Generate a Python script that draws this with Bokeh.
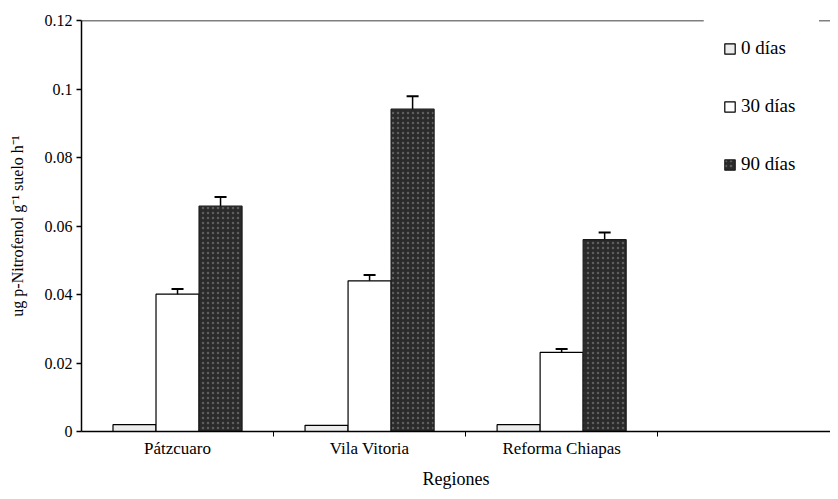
import numpy as np
from bokeh.plotting import figure
from bokeh.models import (Range1d, FixedTicker, CustomJSTickFormatter, Whisker,
                          ColumnDataSource, Legend, LegendItem)
from bokeh.embed import file_html
from bokeh.resources import INLINE

regions = ["Pátzcuaro", "Vila Vitoria", "Reforma Chiapas"]
series_names = ["0 días", "30 días", "90 días"]
dias_0 = [0.0020, 0.0018, 0.0020]
dias_30 = [0.0401, 0.0440, 0.0231]
dias_30_err = [0.0015, 0.0017, 0.0010]
dias_90 = [0.0658, 0.0941, 0.0560]
dias_90_err = [0.0027, 0.0038, 0.0021]
y_ticks = [0, 0.02, 0.04, 0.06, 0.08, 0.1, 0.12]

FONT = "Liberation Serif"
y_max = 0.12
x_end = 3.9

p = figure(width=830, height=491, output_backend="svg", toolbar_location=None,
           x_range=Range1d(0, x_end), y_range=Range1d(0, y_max),
           min_border_left=81, min_border_right=0, min_border_top=20,
           min_border_bottom=59)
p.outline_line_color = None
p.xgrid.visible = False
p.ygrid.visible = False
p.background_fill_color = "white"
p.border_fill_color = "white"

centers = np.arange(len(regions)) + 0.5
bw = 0.224

src0 = ColumnDataSource(dict(x=centers - bw, top=dias_0))
src30 = ColumnDataSource(dict(x=centers, top=dias_30,
                              up=np.array(dias_30) + np.array(dias_30_err),
                              lo=np.array(dias_30) - np.array(dias_30_err)))
src90 = ColumnDataSource(dict(x=centers + bw, top=dias_90,
                              up=np.array(dias_90) + np.array(dias_90_err),
                              lo=np.array(dias_90) - np.array(dias_90_err)))

r0 = p.vbar(x="x", top="top", width=bw, bottom=0, source=src0,
            fill_color="#ececec", line_color="black", line_width=1.2)
r30 = p.vbar(x="x", top="top", width=bw, bottom=0, source=src30,
             fill_color="white", line_color="black", line_width=1.2)
r90 = p.vbar(x="x", top="top", width=bw, bottom=0, source=src90,
             fill_color="#2a2a2a", line_color="#1a1a1a", line_width=1.2,
             hatch_pattern=".", hatch_color="#5e5e5e", hatch_scale=5, hatch_weight=1)

for s in (src30, src90):
    w = Whisker(base="x", upper="up", lower="lo", source=s,
                line_color="black", line_width=1.5)
    w.upper_head.size = 12
    w.lower_head.size = 12
    w.upper_head.line_width = 2
    w.lower_head.line_width = 2
    w.upper_head.line_color = "black"
    w.lower_head.line_color = "black"
    p.add_layout(w)

# top border with gap behind legend
p.segment(x0=[0, 3.84], x1=[3.24, x_end], y0=[y_max, y_max], y1=[y_max, y_max],
          line_color="black", line_width=1.5)

# x axis
xa = p.xaxis[0]
xa.ticker = FixedTicker(ticks=list(centers), minor_ticks=[1, 2, 3])
xa.major_label_overrides = {float(c): r for c, r in zip(centers, regions)}
xa.major_tick_out = 0
xa.major_tick_in = 0
xa.minor_tick_out = 5
xa.minor_tick_in = 0
xa.minor_tick_line_color = "black"
xa.axis_line_width = 1.5
xa.axis_line_color = "black"
xa.major_label_text_font = FONT
xa.major_label_text_font_size = "17px"
xa.major_label_text_color = "black"
xa.major_label_standoff = 2
xa.axis_label = "Regiones"
xa.axis_label_text_font = FONT
xa.axis_label_text_font_size = "18px"
xa.axis_label_text_font_style = "normal"
xa.axis_label_text_color = "black"
xa.axis_label_standoff = 8

# y axis
ya = p.yaxis[0]
ya.ticker = FixedTicker(ticks=y_ticks, minor_ticks=[])
ya.formatter = CustomJSTickFormatter(code="return String(Number(tick.toFixed(2)));")
ya.major_tick_out = 5
ya.major_tick_in = 0
ya.major_tick_line_width = 1.5
ya.axis_line_width = 1.5
ya.axis_line_color = "black"
ya.major_label_text_font = FONT
ya.major_label_text_font_size = "16px"
ya.major_label_text_color = "black"
ya.major_label_standoff = 4
ya.axis_label = "ug p-Nitrofenol g⁻¹ suelo h⁻¹"
ya.axis_label_text_font = FONT
ya.axis_label_text_font_size = "16px"
ya.axis_label_text_font_style = "normal"
ya.axis_label_text_color = "black"
ya.axis_label_standoff = 16

legend = Legend(items=[LegendItem(label=series_names[0], renderers=[r0]),
                       LegendItem(label=series_names[1], renderers=[r30]),
                       LegendItem(label=series_names[2], renderers=[r90])],
                location=(642, 256), orientation="vertical")
legend.padding = 0
legend.margin = 0
legend.spacing = 36
legend.glyph_width = 13
legend.glyph_height = 13
legend.label_height = 22
legend.label_standoff = 5
legend.label_text_font = FONT
legend.label_text_font_size = "19px"
legend.label_text_color = "black"
legend.border_line_color = None
legend.background_fill_alpha = 0
p.add_layout(legend, "center")

open("out.html", "w").write(file_html(p, INLINE))
